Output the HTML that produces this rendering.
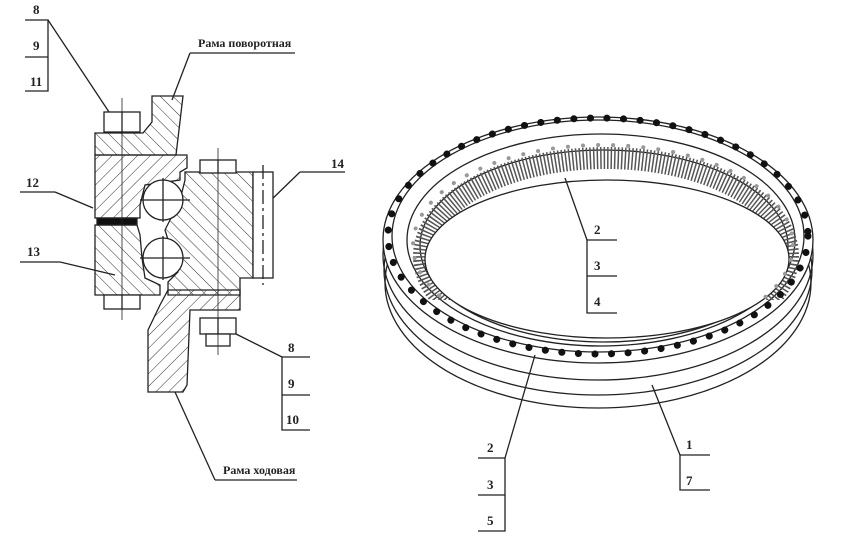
<!DOCTYPE html>
<html><head><meta charset="utf-8"><style>
html,body{margin:0;padding:0;background:#fff;}
svg{display:block}
text{font-family:"Liberation Serif","DejaVu Serif",serif;font-weight:bold;fill:#222;font-size:13px}
</style></head><body>
<svg width="850" height="546" viewBox="0 0 850 546" xmlns="http://www.w3.org/2000/svg">
<defs>
<pattern id="h1" width="9" height="9" patternUnits="userSpaceOnUse" patternTransform="rotate(45)"><line x1="0" y1="0" x2="0" y2="9" stroke="#333" stroke-width="1"/></pattern>
<pattern id="h2" width="9" height="9" patternUnits="userSpaceOnUse" patternTransform="rotate(-45)"><line x1="0" y1="0" x2="0" y2="9" stroke="#333" stroke-width="1"/></pattern>
<clipPath id="top"><rect x="0" y="0" width="850" height="300"/></clipPath>
</defs>
<g stroke="#222" stroke-width="1.3" fill="none">
<polyline points="25,20 48,20 48,91 25,91"/><line x1="25" y1="57" x2="48" y2="57"/>
<line x1="48" y1="20" x2="113" y2="118"/>
<line x1="190" y1="53" x2="295" y2="53"/><line x1="190" y1="53" x2="172" y2="100"/>
<line x1="20" y1="192" x2="55" y2="192"/><line x1="55" y1="192" x2="93" y2="208"/>
<line x1="20" y1="262" x2="60" y2="262"/><line x1="60" y1="262" x2="115" y2="275"/>
<line x1="300" y1="172" x2="345" y2="172"/><line x1="300" y1="172" x2="268" y2="203"/>
<polyline points="310,357 282,357 282,430 310,430"/><line x1="282" y1="395" x2="310" y2="395"/>
<line x1="282" y1="357" x2="228" y2="330"/>
<line x1="215" y1="480" x2="297" y2="480"/><line x1="215" y1="480" x2="175" y2="392"/>
<path d="M152,96 L183,96 L176,155 L95,155 L95,133 L143,133 L152,122 Z" fill="url(#h2)"/>
<path d="M95,155 L187,155 L187,168 L180,172 L180,180 L145,185 L140,205 L140,218 L95,218 Z" fill="url(#h1)"/>
<path d="M95,225 L137,225 L140,235 L142,258 L145,278 L160,285 L160,295 L95,295 Z" fill="url(#h2)"/>
<rect x="97" y="218" width="40" height="7" fill="#111"/>
<path d="M185,172 L253,172 L253,278 L240,278 L240,295 L168,295 L168,282 L178,272 L165,230 L180,200 L185,180 Z" fill="url(#h2)"/>
<rect x="253" y="172" width="20" height="106" fill="#fff"/>
<line x1="263" y1="165" x2="263" y2="285" stroke-dasharray="14,4,3,4"/>
<path d="M168,290 L240,290 L240,310 L190,310 L187,385 L183,392 L148,392 L148,330 L160,305 Z" fill="url(#h1)"/>
<circle cx="163" cy="200" r="20" fill="#fff"/><circle cx="163" cy="258" r="20" fill="#fff"/>
<line x1="140" y1="200" x2="190" y2="200"/><line x1="163" y1="178" x2="163" y2="222"/>
<line x1="140" y1="258" x2="190" y2="258"/><line x1="163" y1="236" x2="163" y2="280"/>
<rect x="104" y="112" width="36" height="20" fill="#fff"/><line x1="122" y1="112" x2="122" y2="132"/>
<rect x="104" y="295" width="36" height="14" fill="#fff"/><line x1="122" y1="295" x2="122" y2="309"/>
<rect x="200" y="160" width="36" height="13" fill="#fff"/><line x1="218" y1="160" x2="218" y2="173"/>
<rect x="200" y="318" width="36" height="16" fill="#fff"/><rect x="206" y="334" width="24" height="12" fill="#fff"/><line x1="218" y1="318" x2="218" y2="334"/>
<line x1="122" y1="98" x2="122" y2="320" stroke-width="0.8"/>
<line x1="218" y1="148" x2="218" y2="355" stroke-width="0.8"/>
<ellipse cx="598" cy="283" rx="213" ry="125"/>
<ellipse cx="598" cy="270" rx="214" ry="125"/>
<ellipse cx="598" cy="255" rx="215" ry="125"/>
<ellipse cx="598" cy="240" rx="215" ry="123" fill="#fff"/>
<ellipse cx="598" cy="236" rx="206" ry="116"/>
<ellipse cx="601" cy="240" rx="194" ry="106"/>
<ellipse cx="604" cy="246" rx="184" ry="96"/>
<g clip-path="url(#top)"><ellipse cx="606" cy="256" rx="182" ry="98" stroke="#555" stroke-width="22" stroke-dasharray="1.5,2"/></g>
<ellipse cx="607" cy="259" rx="182" ry="79" fill="#fff"/>
<ellipse cx="598" cy="236" rx="210" ry="118" stroke="#111" stroke-width="7" stroke-dasharray="0.1,16.5" stroke-linecap="round"/>
<g clip-path="url(#top)"><ellipse cx="603" cy="245" rx="190" ry="100" stroke="#999" stroke-width="4" stroke-dasharray="0.1,15" stroke-linecap="round"/></g>
<polyline points="617,240 587,240 587,313 617,313"/><line x1="587" y1="276" x2="617" y2="276"/>
<line x1="587" y1="240" x2="565" y2="178"/>
<polyline points="478,458 505,458 505,531 478,531"/><line x1="478" y1="495" x2="505" y2="495"/>
<line x1="505" y1="458" x2="535" y2="355"/>
<polyline points="710,455 680,455 680,490 710,490"/>
<line x1="680" y1="455" x2="652" y2="385"/>
</g>
<text x="33" y="14">8</text><text x="33" y="50">9</text><text x="30" y="86">11</text>
<text x="198" y="47" style="font-size:12px">Рама поворотная</text>
<text x="26" y="187">12</text><text x="27" y="256">13</text><text x="331" y="168">14</text>
<text x="288" y="352">8</text><text x="288" y="388">9</text><text x="286" y="424">10</text>
<text x="223" y="474" style="font-size:12px">Рама ходовая</text>
<text x="594" y="234">2</text><text x="594" y="270">3</text><text x="594" y="306">4</text>
<text x="487" y="452">2</text><text x="487" y="489">3</text><text x="487" y="525">5</text>
<text x="686" y="449">1</text><text x="686" y="485">7</text>
</svg>
</body></html>
